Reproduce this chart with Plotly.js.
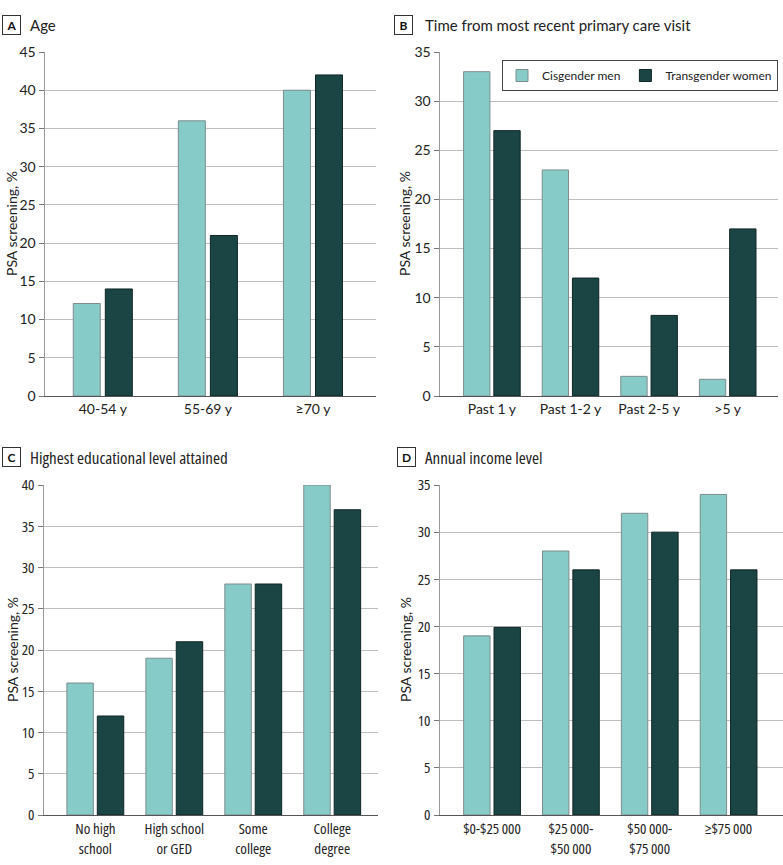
<!DOCTYPE html>
<html>
<head>
<meta charset="utf-8">
<script src="https://cdn.plot.ly/plotly-3.0.1.min.js"></script>
<style>
html,body{margin:0;padding:0;background:#fff;}
#chart{width:783px;height:865px;}
.x3tick text, .y3tick text, .x4tick text, .y4tick text,
.cond text { font-stretch: 75% !important; }
</style>
</head>
<body>
<div id="chart"></div>
<script>
// ---- data ----
const seriesNames = ['Cisgender men', 'Transgender women'];

const ageCats = ['40-54 y', '55-69 y', '≥70 y'];
const ageCis = [12.1, 36, 40];
const ageTrans = [14, 21, 42];

const visitCats = ['Past 1 y', 'Past 1-2 y', 'Past 2-5 y', '>5 y'];
const visitCis = [33, 23, 2, 1.7];
const visitTrans = [27, 12, 8.2, 17];

const eduCats = ['No high<br>school', 'High school<br>or GED', 'Some<br>college', 'College<br>degree'];
const eduCis = [16, 19, 28, 40];
const eduTrans = [12, 21, 28, 37];

const incCats = ['$0-$25\u2009000', '$25\u2009000-<br>$50\u2009000', '$50\u2009000-<br>$75\u2009000', '≥$75\u2009000'];
const incCis = [19, 28, 32, 34];
const incTrans = [19.9, 26, 30, 26];

const panelTitles = ['Age', 'Time from most recent primary care visit', 'Highest educational level attained', 'Annual income level'];
const panelLetters = ['A', 'B', 'C', 'D'];
const yTitle = 'PSA screening, %';

// ---- styles ----
const W = 783, H = 865;
const cyan = '#87cbc9', dark = '#1b4544';
const cyanLine = '#7d8c8c', darkLine = '#0e2625';
const fontWide = 'Lato, Noto Sans, sans-serif';
const fontNarrow = 'Open Sans, Noto Sans, sans-serif';

function px(x) { return x / W; }
function py(y) { return 1 - y / H; }

const panels = [
  {cats: ageCats, cis: ageCis, trans: ageTrans, ymax: 45, xd: [45, 376], yd: [52, 396], range: [-0.55, 2.6], bw: 0.257, gap: 0.048, font: fontWide, fs: 14, tfs: 15},
  {cats: visitCats, cis: visitCis, trans: visitTrans, ymax: 35, xd: [440, 778], yd: [52, 396], range: [-0.66, 3.64], bw: 0.335, gap: 0.05, font: fontWide, fs: 14, tfs: 15},
  {cats: eduCats, cis: eduCis, trans: eduTrans, ymax: 40, xd: [44, 378], yd: [485, 815], range: [-0.65, 3.58], bw: 0.335, gap: 0.05, font: fontNarrow, fs: 15, tfs: 17},
  {cats: incCats, cis: incCis, trans: incTrans, ymax: 35, xd: [440, 783], yd: [485, 815], range: [-0.66, 3.69], bw: 0.335, gap: 0.05, font: fontNarrow, fs: 15, tfs: 17}
];

const titlePos = [
  {bx: 11.5, tx: 28, y: 25},
  {bx: 403.5, tx: 423, y: 25},
  {bx: 11.5, tx: 28, y: 457},
  {bx: 406, tx: 423, y: 457}
];
const yTitleX = [12, 405, 12, 405];

const traces = [];
const layout = {
  width: W, height: H,
  margin: {l: 0, r: 0, t: 0, b: 0, autoexpand: false},
  paper_bgcolor: '#fff', plot_bgcolor: '#fff',
  barmode: 'overlay',
  showlegend: true,
  legend: {
    x: px(778), y: py(60), xanchor: 'right', yanchor: 'top',
    orientation: 'h', bordercolor: '#444', borderwidth: 1, bgcolor: '#fff',
    font: {family: fontWide, size: 12, color: '#222'},
    tracegroupgap: 0, itemwidth: 30
  },
  annotations: [],
  font: {family: fontWide, color: '#222'}
};

panels.forEach((p, i) => {
  const n = i === 0 ? '' : String(i + 1);
  const xa = 'x' + n, ya = 'y' + n;
  traces.push({
    type: 'bar', x: p.cats, y: p.cis, name: seriesNames[0], xaxis: xa, yaxis: ya,
    width: p.bw, offset: -(p.bw + p.gap / 2),
    marker: {color: cyan, line: {color: cyanLine, width: 1}},
    showlegend: i === 1, legendgroup: 'cis', hoverinfo: 'skip'
  });
  traces.push({
    type: 'bar', x: p.cats, y: p.trans, name: seriesNames[1], xaxis: xa, yaxis: ya,
    width: p.bw, offset: p.gap / 2,
    marker: {color: dark, line: {color: darkLine, width: 1}},
    showlegend: i === 1, legendgroup: 'trans', hoverinfo: 'skip'
  });
  layout['xaxis' + n] = {
    domain: [px(p.xd[0]), px(p.xd[1])], anchor: ya,
    type: 'category', range: p.range,
    showgrid: false, zeroline: false,
    showline: true, linecolor: '#555', linewidth: 1,
    ticks: '', tickfont: {family: p.font, size: p.fs, color: '#222'},
    fixedrange: true
  };
  layout['yaxis' + n] = {
    domain: [py(p.yd[1]), py(p.yd[0])], anchor: xa,
    range: [0, p.ymax], dtick: 5, tick0: 0,
    showgrid: true, gridcolor: '#bdbdbd', gridwidth: 1,
    zeroline: false,
    showline: true, linecolor: '#999', linewidth: 1.5,
    ticks: 'outside', ticklen: 5, tickcolor: '#777',
    tickfont: {family: p.font, size: p.fs, color: '#222'},
    fixedrange: true
  };
  const tp = titlePos[i];
  layout.annotations.push({
    xref: 'paper', yref: 'paper', x: px(tp.bx), y: py(tp.y),
    text: '<b>' + panelLetters[i] + '</b>', showarrow: false,
    xanchor: 'center', yanchor: 'middle',
    font: {family: fontWide, size: 12, color: '#111'},
    bordercolor: '#333', borderwidth: 1, borderpad: 2, bgcolor: '#fff',
    width: 13, height: 14
  });
  layout.annotations.push({
    xref: 'paper', yref: 'paper', x: px(tp.tx), y: py(tp.y),
    text: panelTitles[i], showarrow: false,
    xanchor: 'left', yanchor: 'middle', align: 'left',
    font: {family: p.font, size: p.tfs, color: '#222'}
  });
  layout.annotations.push({
    xref: 'paper', yref: 'paper', x: px(yTitleX[i]), y: py((p.yd[0] + p.yd[1]) / 2),
    text: yTitle, showarrow: false, textangle: -90,
    xanchor: 'center', yanchor: 'middle',
    font: {family: fontWide, size: 14, color: '#222'}
  });
});

Plotly.newPlot('chart', traces, layout, {displayModeBar: false, staticPlot: true}).then(gd => {
  gd.querySelectorAll('.annotation').forEach(a => {
    const idx = +a.getAttribute('data-index');
    if (idx === 7 || idx === 10) a.classList.add('cond');
  });
});
</script>
</body>
</html>
